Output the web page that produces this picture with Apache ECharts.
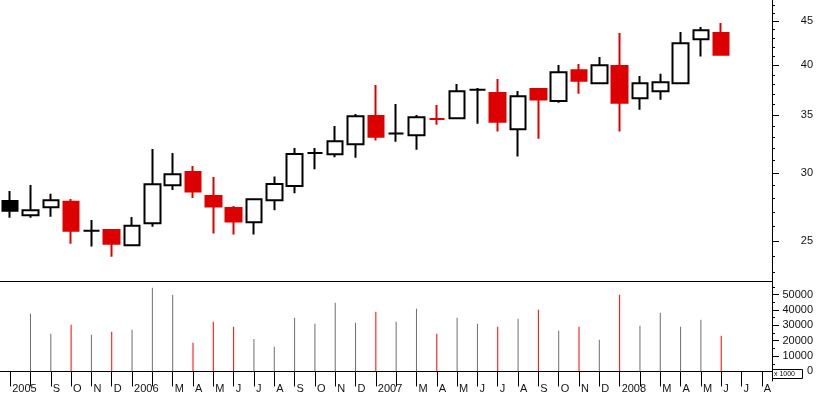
<!DOCTYPE html>
<html>
<head>
<meta charset="utf-8">
<script src="https://cdn.jsdelivr.net/npm/echarts@6/dist/echarts.min.js"></script>
<style>
html,body{margin:0;padding:0;background:#fff;}
#chart{width:817px;height:395px;}
</style>
</head>
<body>
<div id="chart"></div>
<script>
const months = ['2005-07','2005-08','2005-09','2005-10','2005-11','2005-12',
  '2006-01','2006-02','2006-03','2006-04','2006-05','2006-06','2006-07','2006-08','2006-09','2006-10','2006-11','2006-12',
  '2007-01','2007-02','2007-03','2007-04','2007-05','2007-06','2007-07','2007-08','2007-09','2007-10','2007-11','2007-12',
  '2008-01','2008-02','2008-03','2008-04','2008-05','2008-06','2008-07','2008-08'];
const tickLabels = ['2005','','S','O','N','D',
  '2006','','M','A','M','J','J','A','S','O','N','D',
  '2007','','M','A','M','J','J','A','S','O','N','D',
  '2008','','M','A','M','J','J','A'];
const openP  = [27.83,26.78,27.36,27.76,25.70,25.75,24.72,26.21,29.02,30.07,28.20,27.31,26.28,27.88,28.96,31.64,31.53,32.38,
                34.93,33.32,33.17,34.65,34.71,37.48,37.15,33.71,37.55,36.36,39.47,38.12,39.93,36.63,37.32,38.12,42.88,43.61];
const closeP = [27.11,27.14,27.88,25.70,25.70,24.82,26.04,29.10,29.89,28.53,27.41,26.33,27.96,29.11,31.55,31.64,32.64,34.90,
                33.04,33.32,34.81,34.65,37.32,37.48,34.40,36.82,36.51,39.26,38.39,40.00,36.19,38.12,38.23,42.43,43.93,41.15];
const lowP   = [26.61,26.61,26.68,24.82,24.63,23.97,24.70,25.97,28.66,28.05,25.50,25.43,25.43,27.14,28.41,30.29,31.28,31.24,
                32.70,32.61,31.92,34.13,34.70,34.22,33.50,31.33,32.87,36.19,37.08,38.10,33.50,35.52,36.49,38.05,40.95,41.04];
const highP  = [28.58,29.04,28.36,27.98,26.45,25.82,26.66,31.97,31.64,30.56,29.67,27.46,28.00,29.71,32.06,32.06,34.01,35.11,
                37.95,36.07,35.02,35.97,38.05,37.65,38.57,37.35,37.60,40.03,40.14,40.90,43.61,38.88,39.12,43.73,44.32,44.80];
const volume = [null,37500,24500,30400,23900,25800,27100,54400,49900,18700,32300,29100,21100,16100,34900,31000,44700,31700,
                38800,32300,40800,24500,34900,31000,29100,34300,40100,26500,29100,20600,49900,29700,38200,29100,33600,23200];
const priceLabels = [25,30,35,40,45];
const priceMinor = [23,24,26,27,28,29,31,32,33,34,36,37,38,39,41,42,43,44,46,47];
const volLabels = [0,10000,20000,30000,40000,50000];
const volMinor = [5000,15000,25000,35000,45000,55000];

const RED = '#dd0000';
const FONT = 'Liberation Sans, Arial, sans-serif';
const AXIS_X = 772;

function isDown(i){
  if (closeP[i] < openP[i]) return true;
  if (closeP[i] > openP[i]) return false;
  return i > 0 && closeP[i] < closeP[i-1];
}

const candleData = openP.map((o,i)=>{
  const item = {value:[o, closeP[i], lowP[i], highP[i]]};
  if (i === 0) {
    item.itemStyle = {color:'#000', color0:'#000', borderColor:'#000', borderColor0:'#000', borderColorDoji:'#000'};
  } else if (o === closeP[i]) {
    const c = isDown(i) ? RED : '#000';
    item.itemStyle = {borderColor:c, borderColor0:c, borderColorDoji:c};
  }
  return item;
});
const volData = volume.map((v,i)=>({
  value: v,
  itemStyle: {color: isDown(i) ? '#ff0000' : '#6e6e6e'}
}));

const chart = echarts.init(document.getElementById('chart'), null, {renderer:'canvas'});
const lblStyle = {color:'#111', fontFamily:FONT, fontSize:11};
chart.setOption({
  animation:false,
  backgroundColor:'#fff',
  grid:[
    {left:0, right:45, top:0, height:281},
    {left:0, right:45, top:281, height:100}
  ],
  xAxis:[
    {type:'category', gridIndex:0, data:months, boundaryGap:true,
     axisLine:{show:true, lineStyle:{color:'#000', width:1}},
     axisTick:{show:false}, axisLabel:{show:false}, splitLine:{show:false}},
    {type:'category', gridIndex:1, data:months, boundaryGap:true,
     axisLine:{show:true, lineStyle:{color:'#000', width:1}},
     axisTick:{show:true, alignWithLabel:true, interval:0, length:15, lineStyle:{color:'#000', width:1}},
     axisLabel:{show:true, interval:0, align:'left', verticalAlign:'top', margin:2, padding:[0,0,0,2],
       lineHeight:11, color:'#111', fontFamily:FONT, fontSize:11,
       formatter:(v, idx)=>tickLabels[idx]},
     splitLine:{show:false}}
  ],
  yAxis:[
    {type:'log', gridIndex:0, position:'right', min:22.46, max:47.64, logBase:10,
     axisLine:{show:true, lineStyle:{color:'#000', width:1}},
     axisTick:{show:true, customValues:priceLabels, length:7, lineStyle:{color:'#000'}},
     axisLabel:Object.assign({show:true, customValues:priceLabels, align:'right', margin:41,
       formatter:v=>String(v)}, lblStyle),
     splitLine:{show:false}},
    {type:'log', gridIndex:0, position:'left', offset:-AXIS_X, min:22.46, max:47.64, logBase:10,
     axisLine:{show:false},
     axisTick:{show:true, inside:true, customValues:priceMinor, length:3, lineStyle:{color:'#000'}},
     axisLabel:{show:false}, splitLine:{show:false}},
    {type:'value', gridIndex:1, position:'right', min:-6200, max:58800,
     axisLine:{show:true, lineStyle:{color:'#000', width:1}},
     axisTick:{show:true, customValues:volLabels, length:7, lineStyle:{color:'#000'}},
     axisLabel:Object.assign({show:true, customValues:volLabels, align:'right', margin:41,
       formatter:v=>String(v)}, lblStyle),
     splitLine:{show:false}},
    {type:'value', gridIndex:1, position:'left', offset:-AXIS_X, min:-6200, max:58800,
     axisLine:{show:false},
     axisTick:{show:true, inside:true, customValues:volMinor, length:3, lineStyle:{color:'#000'}},
     axisLabel:{show:false}, splitLine:{show:false}}
  ],
  series:[
    {type:'candlestick', xAxisIndex:0, yAxisIndex:0, data:candleData, barWidth:16,
     itemStyle:{color:'#fff', color0:RED, borderColor:'#000', borderColor0:RED, borderWidth:2}},
    {type:'bar', xAxisIndex:1, yAxisIndex:2, data:volData, barWidth:1}
  ],
  graphic:[
    {type:'rect', left:772, top:369, shape:{width:30, height:9},
     style:{fill:'#fff', stroke:'#000', lineWidth:1}, z:100},
    {type:'text', left:774, top:370.5, z:101,
     style:{text:'x 1000', fill:'#000', font:'7px ' + FONT}}
  ]
});
</script>
</body>
</html>
